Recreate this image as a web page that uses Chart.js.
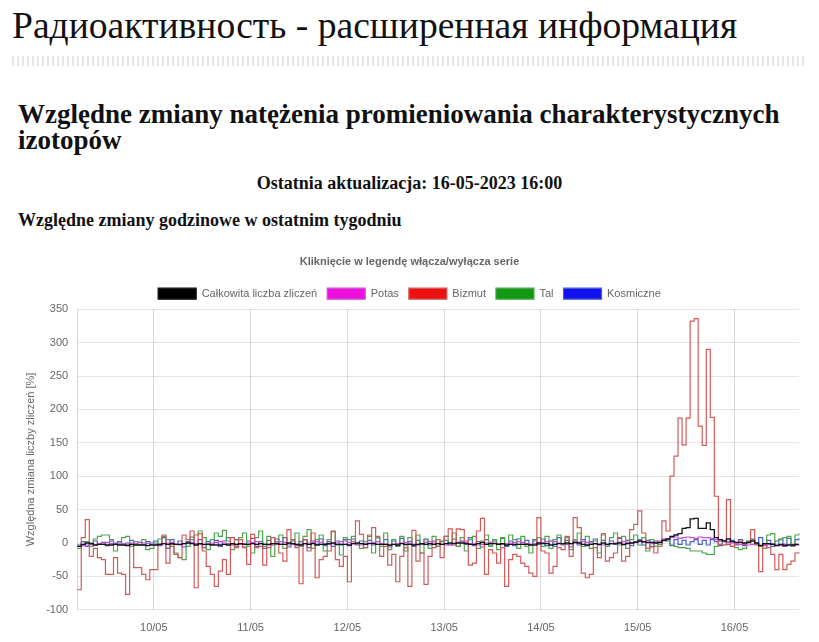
<!DOCTYPE html>
<html>
<head>
<meta charset="utf-8">
<script src="https://cdn.jsdelivr.net/npm/chart.js@4"></script>
<style>
  body { margin: 0; background: #fff; width: 819px; height: 642px; overflow: hidden; position: relative; }
  .t { position: absolute; font-family: "Liberation Serif", serif; color: #111; white-space: nowrap; }
  #h1 { left: 12px; top: 4px; font-size: 37.6px; line-height: 44px; }
  #sep { position: absolute; left: 12px; top: 56px; width: 792px; height: 10px;
         background: repeating-linear-gradient(90deg, #e6e6e6 0 2px, transparent 2px 5px); }
  #h2 { left: 18px; top: 101px; font-size: 27px; line-height: 26px; font-weight: bold; white-space: normal; width: 795px; }
  #upd { left: 0; width: 819px; text-align: center; top: 172px; font-size: 18px; line-height: 22px; font-weight: bold; }
  #h3 { left: 18px; top: 209px; font-size: 18px; line-height: 22px; font-weight: bold; }
  #box { position: absolute; left: 0; top: 245px; width: 819px; height: 402px; }
</style>
</head>
<body>
<div class="t" id="h1">Радиоактивность - расширенная информация</div>
<div id="sep"></div>
<div class="t" id="h2">Względne zmiany natężenia promieniowania charakterystycznych izotopów</div>
<div class="t" id="upd">Ostatnia aktualizacja: 16-05-2023 16:00</div>
<div class="t" id="h3">Względne zmiany godzinowe w ostatnim tygodniu</div>
<div id="box"><canvas id="radChart"></canvas></div>
<script>
// days shown on the x axis, first and last hour of the week window
const days = ['09/05', '10/05', '11/05', '12/05', '13/05', '14/05', '15/05', '16/05'];
const firstHour = 5;
const lastHour = 16;

// hourly relative changes [%], one row per day (09/05 starts at 05:00, 16/05 ends at 16:00)
const total = [
  -5, -2, 0, -1, -3, -2, -2, -3, -3, -2, -3, -3, -4, -2, -3, -3, -3, -4, -3,
  -3, -2, -1, -2, -1, -2, -2, -1, 0, -1, -3, -1, -2, -2, -3, -3, -3, -2, -3, -1, -2, -1, -2, -2,
  -1, -2, -1, -2, -2, -1, -1, -2, -2, 0, -1, -2, -3, -1, -2, -1, -3, -2, -2, -1, 0, -2, -2, -2,
  -3, -1, 0, -1, -2, -1, -1, -2, -2, -2, -3, -2, -3, -1, -2, -2, -3, -2, -1, -2, -1, -2, -1, -2,
  -1, 0, -1, 0, 0, -1, -2, -2, -1, 1, -2, -1, -1, -2, -1, -3, -2, -2, -2, -2, -2, -3, -3, 0,
  -1, -1, -3, -2, -1, -1, 0, -1, 1, 0, -2, -3, -2, -1, -2, 0, -2, -1, -1, 0, -2, -1, 0, 1,
  3, 2, 1, 1, 0, 1, 4, 6, 10, 12, 14, 22, 23, 36, 37, 22, 22, 30, 20, 8, 5, 3, 6, 2,
  1, 1, 0, 1, 3, 0, -4, -1, -1, -2, -4, -2, -4, -3, -3, -2, -2
];
const potas = [
  -5, -4, -3, -2, -3, -1, 0, 1, -1, 0, -2, -1, -2, 0, -1, 1, 0, -1, -2,
  -3, -2, -1, 0, 1, -2, -3, -1, 0, 1, -1, -2, -3, -1, 0, 1, 2, 0, -1, -2, -3, -2, -1, 0,
  1, 2, -1, -2, -3, -1, 0, 2, 1, -1, -2, -3, -2, -1, 0, 1, 2, 1, -1, -2, -1, 0, 2, 3,
  1, -1, -2, -3, -1, 0, 1, 2, -1, -2, -4, -2, -1, 0, 1, -1, -2, -3, -1, 1, 2, 0, -1, -2,
  -3, -2, 0, 1, 2, 1, -1, -2, -3, -2, 0, 1, 0, -1, -2, -1, 0, 1, 2, 1, -1, -2, -1, 0,
  1, 2, 3, 2, 0, -1, -2, -1, 0, 1, 2, 1, 0, -1, -2, -3, -2, -1, 0, 1, 2, 1, 0, 1,
  2, 1, 0, -1, 1, 3, 5, 6, 8, 9, 7, 8, 9, 8, 7, 9, 8, 8, 7, 5, 3, 2, 1, 0,
  -1, -2, -1, -3, -2, -1, -3, -4, -2, -1, -3, -4, -5, -3, -2, -3, -4
];
const bizmut = [
  -70, 8, 35, -20, -8, -22, -25, -47, -47, -22, -45, -47, -77, -2, -37, -37, -47, -55, -40,
  -40, -2, 12, -30, -2, -17, -22, 12, 5, 18, -67, 14, -12, -35, -47, -65, -42, -25, -47, 8, -7, 5, -7, -32,
  13, -7, -5, -33, -7, 8, -2, -15, -27, 20, 5, -7, -61, 5, -12, 15, -52, -25, -20, -12, 18, -25, -35, -20,
  -58, 2, 33, 13, -7, 10, 23, 10, -20, -5, -33, -17, -58, -20, -7, -65, 19, -27, -15, -62, -20, -7, 5, -22,
  10, 21, -3, 21, 20, 3, -33, -30, 18, 37, -47, -10, -15, -30, -7, -65, -25, -17, -20, -30, -35, -45, -50, 38,
  -12, -15, -45, -35, -7, -10, 10, -20, 38, 23, -45, -52, -47, -7, -22, 14, -27, -22, -15, 8, -27, -20, 20, 28,
  48, 15, -8, -5, -15, -5, 33, 18, 100, 130, 187, 147, 187, 332, 336, 175, 146, 290, 188, 70, -2, -3, 65, -5,
  -2, 3, -2, 0, 20, -2, -43, -2, -7, -17, -40, -17, -40, -32, -27, -15, -13
];
const tal = [
  -8, -3, 2, -5, 6, 10, 12, 12, 5, -12, 0, 8, 10, -5, 2, -3, 5, -10, -8,
  0, 6, 10, 5, -5, -15, -22, -25, -5, 5, 12, 18, 8, -10, 5, 15, 10, 19, 3, -10, -5, 8, 15, -5,
  -15, 8, 18, -5, 10, -20, 2, 12, -8, -3, 5, 15, -5, 10, 20, -8, 5, 12, -12, 5, 17, -3, -18, 8,
  5, 10, -3, -8, 2, 12, -15, 8, -5, 15, -10, 5, -5, 10, -12, 8, -3, 12, -15, 5, -8, 10, -5, 3,
  10, -2, 15, -5, 8, -12, 5, 10, -8, 3, 12, -5, 5, -10, 8, -3, 12, 5, -8, 10, -5, -15, 3, 8,
  -5, 10, -8, 5, 12, -3, 8, -10, 5, 15, -5, 10, -8, 3, -15, 12, -5, 8, 15, -3, 10, -8, 5, 12,
  -3, 8, -12, 5, -5, -2, 3, 5, -3, -5, -7, -7, -8, -12, -12, -12, -15, -17, -17, -5, 3, -3, 2, -5,
  -7, -10, -8, 3, 5, -3, -5, -8, 12, 14, -3, 5, 8, 10, -5, 12, 15
];
const kosmiczne = [
  -3, 2, -5, 0, 3, -2, 1, -4, 3, -1, 2, -3, 0, 4, -2, 1, -3, 2, 0,
  3, -4, 8, -8, 5, -2, 3, -6, 2, 9, -3, 5, -7, 2, -2, 4, -5, 3, 8, -3, 5, -2, -6, 3,
  7, -5, 2, -8, 4, -3, 6, -2, 8, -6, 3, -4, 2, 5, -7, 3, -2, 6, -4, 2, -5, 3, -3, 5,
  -4, 6, -2, 3, -7, 4, -3, 8, -2, 5, -6, 3, -4, 7, -3, 2, -5, 4, -2, 6, -3, 3, -5, 2,
  4, -3, 6, -5, 3, -2, 8, -4, 2, -6, 5, -3, 3, -2, 7, -5, 3, -4, 6, -2, 4, -3, 5, -2,
  6, -4, 3, -5, 8, -2, 4, -6, 3, -3, 5, -4, 2, 6, -3, 4, -5, 3, -2, 7, -3, 4, -4, 2,
  5, -3, 4, -6, 3, -2, 6, 3, -4, 5, -2, 4, -3, 2, 5, -2, 4, -3, 5, 2, -4, 3, -2, 4,
  -3, 5, -4, 3, 6, -2, 8, -3, 4, -5, 3, 6, -2, 7, -4, 5, 8
];

// hourly category labels like "10/05 00:00"
const labels = [];
days.forEach(function (day, d) {
  const from = d === 0 ? firstHour : 0;
  const to = d === days.length - 1 ? lastHour : 23;
  for (let h = from; h <= to; h++) {
    labels.push(day + ' ' + String(h).padStart(2, '0') + ':00');
  }
});

function series(label, data, fill, line, width) {
  return {
    label: label,
    data: data,
    backgroundColor: fill,
    borderColor: line,
    borderWidth: width,
    stepped: true,
    pointRadius: 0,
    fill: false
  };
}

Chart.defaults.font.family = '"Liberation Sans", Arial, sans-serif';
Chart.defaults.color = '#666';

new Chart(document.getElementById('radChart'), {
  type: 'line',
  data: {
    labels: labels,
    datasets: [
      series('Całkowita liczba zliczeń', total, '#000', 'rgb(20,20,20)', 1.3),
      series('Potas', potas, '#ee11dd', 'rgb(205,80,215)', 1.2),
      series('Bizmut', bizmut, '#ee1111', 'rgb(210,90,90)', 1.2),
      series('Tal', tal, '#119911', 'rgb(80,165,80)', 1.2),
      series('Kosmiczne', kosmiczne, '#1111ee', 'rgb(75,95,205)', 1.2)
    ]
  },
  options: {
    responsive: true,
    maintainAspectRatio: false,
    animation: false,
    layout: { padding: { left: 20, right: 20, top: 0, bottom: 0 } },
    plugins: {
      title: {
        display: true,
        text: 'Kliknięcie w legendę włącza/wyłącza serie',
        font: { size: 11, weight: 'bold' },
        padding: { top: 10, bottom: 10 }
      },
      legend: {
        labels: { boxWidth: 38, font: { size: 11 } }
      },
      tooltip: { enabled: false }
    },
    scales: {
      x: {
        grid: {
          drawTicks: false,
          color: 'rgba(0,0,0,0.15)'
        },
        border: { display: false },
        ticks: {
          autoSkip: false,
          maxRotation: 0,
          padding: 12,
          font: { size: 11 },
          callback: function (value, index) {
            const lab = labels[index];
            return lab.endsWith(' 00:00') ? lab.slice(0, 5) : null;
          }
        }
      },
      y: {
        min: -100,
        max: 350,
        grid: { drawTicks: false, color: 'rgba(0,0,0,0.1)' },
        border: { color: 'rgba(0,0,0,0.15)' },
        ticks: { stepSize: 50, padding: 9, font: { size: 11 } },
        title: {
          display: true,
          text: 'Względna zmiana liczby zliczeń [%]',
          font: { size: 11 },
          padding: { top: 4, bottom: 0 }
        }
      }
    }
  }
});
</script>
</body>
</html>
